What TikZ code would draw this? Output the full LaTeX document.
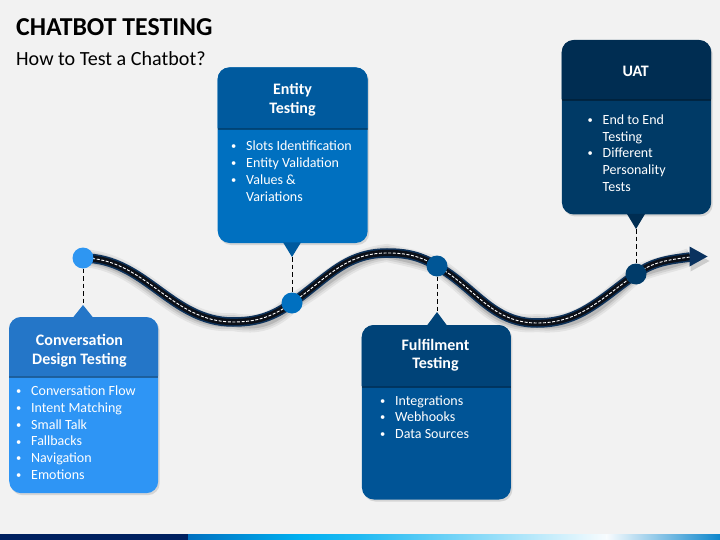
\documentclass[tikz,border=0pt]{standalone}
\usepackage{fontspec}
\setmainfont{Carlito}
\usetikzlibrary{shadows}
\definecolor{bgc}{HTML}{F2F2F2}
\definecolor{barnavy}{HTML}{002060}
\definecolor{hdA}{RGB}{36,118,200}
\definecolor{bdA}{RGB}{46,149,245}
\definecolor{hdB}{RGB}{0,90,158}
\definecolor{bdB}{RGB}{0,112,192}
\definecolor{hdC}{RGB}{0,67,120}
\definecolor{bdC}{RGB}{0,84,150}
\definecolor{hdD}{RGB}{0,45,82}
\definecolor{bdD}{RGB}{0,58,102}
\definecolor{dotA}{RGB}{46,150,242}
\definecolor{dotB}{RGB}{0,112,192}
\definecolor{dotC}{RGB}{0,86,150}
\definecolor{dotD}{RGB}{0,59,105}
\definecolor{roadedge}{RGB}{14,50,90}
\definecolor{roadcore}{RGB}{12,16,24}
\definecolor{arrowc}{RGB}{10,50,95}
\newcommand\bu{\makebox[25pt]{\raisebox{0.9pt}{\fontsize{10.5}{12}\selectfont •}}}
\begin{document}
\begin{tikzpicture}[x=1pt,y=-1pt,
  boxbody/.style={rectangle, rounded corners=12pt, inner sep=0pt, draw=none,
    drop shadow={opacity=0.25, shadow xshift=1.5pt, shadow yshift=-2pt}},
  hdtext/.style={anchor=base, text=white, inner sep=0pt,
    font=\fontsize{16}{18.7}\selectfont\bfseries},
  listtext/.style={anchor=base west, text=white, inner sep=0pt,
    font=\fontsize{14}{16.8}\selectfont},
  dot/.style={circle, minimum size=21pt, inner sep=0pt},
  conn/.style={black, line width=1pt, dash pattern=on 4.5pt off 3pt},
  sep/.style={black, opacity=0.35}
]
\useasboundingbox (0,0) rectangle (720,540);
\fill[bgc] (0,0) rectangle (720,540);

% title
\node[anchor=base west, inner sep=0pt, font=\fontsize{25.8}{30}\selectfont\bfseries] (title) at (16,36) {CHATBOT TESTING};
\node[anchor=base west, inner sep=0pt, font=\fontsize{20.1}{23}\selectfont] (subtitle) at (16,65.5) {How to Test a Chatbot?};

% bottom bar
\fill[barnavy] (0,534) rectangle (188,540);
\shade[left color={rgb,255:red,0;green,112;blue,192}, right color={rgb,255:red,0;green,176;blue,240}] (188,534) rectangle (300,540);
\shade[left color={rgb,255:red,0;green,176;blue,240}, right color={rgb,255:red,32;green,186;blue,242}] (299.5,534) rectangle (360,540);
\shade[left color={rgb,255:red,32;green,186;blue,242}, right color={rgb,255:red,248;green,252;blue,254}] (359.5,534) rectangle (607,540);
\shade[left color={rgb,255:red,248;green,252;blue,254}, right color={rgb,255:red,13;green,134;blue,204}] (606.5,534) rectangle (720,540);

% ---------- boxes ----------
% Box A : Conversation Design Testing
\node[boxbody, fill=bdA, minimum width=149pt, minimum height=176pt, anchor=north west] (boxA) at (9,317) {};
\fill[hdA] (9,376) [rounded corners=12pt] -- (9,317) -- (158,317) [sharp corners] -- (158,376) -- cycle;
\fill[sep] (9,376) rectangle (158,378);
\fill[hdA] (73,317.5) -- (83,305) -- (93,317.5) -- cycle;
\coordinate (tipA) at (83,305);
\node[hdtext] (hA) at (79.5,345.3) {\begin{tabular}[t]{@{}c@{}}Conversation\\Design Testing\end{tabular}};
\node[listtext] (lA) at (6,395.5) {\begin{tabular}[t]{@{}l@{}l@{}}\bu&Conversation Flow\\\bu&Intent Matching\\\bu&Small Talk\\\bu&Fallbacks\\\bu&Navigation\\\bu&Emotions\end{tabular}};

% Box B : Entity Testing
\node[boxbody, fill=bdB, minimum width=150pt, minimum height=175.5pt, anchor=north west] (boxB) at (217.5,67.3) {};
\fill[hdB] (217.5,128.5) [rounded corners=12pt] -- (217.5,67.3) -- (367.5,67.3) [sharp corners] -- (367.5,128.5) -- cycle;
\fill[sep] (217.5,128.5) rectangle (367.5,130.5);
\fill[hdB] (283,242.3) -- (292,257) -- (301,242.3) -- cycle;
\coordinate (tipB) at (292,257);
\node[hdtext] (hB) at (292.5,95) {\begin{tabular}[t]{@{}c@{}}Entity\\Testing\end{tabular}};
\node[listtext] (lB) at (221,150.7) {\begin{tabular}[t]{@{}l@{}l@{}}\bu&Slots Identification\\\bu&Entity Validation\\\bu&Values \&\\&Variations\end{tabular}};

% Box C : Fulfilment Testing
\node[boxbody, fill=bdC, minimum width=149pt, minimum height=174.3pt, anchor=north west] (boxC) at (361.7,325) {};
\fill[hdC] (361.7,386) [rounded corners=12pt] -- (361.7,325) -- (510.7,325) [sharp corners] -- (510.7,386) -- cycle;
\fill[sep] (361.7,386) rectangle (510.7,388);
\fill[hdC] (427,325.5) -- (437,312) -- (447,325.5) -- cycle;
\coordinate (tipC) at (437,312);
\node[hdtext] (hC) at (435.5,350) {\begin{tabular}[t]{@{}c@{}}Fulfilment\\Testing\end{tabular}};
\node[listtext] (lC) at (370,405) {\begin{tabular}[t]{@{}l@{}l@{}}\bu&Integrations\\\bu&Webhooks\\\bu&Data Sources\end{tabular}};

% Box D : UAT
\node[boxbody, fill=bdD, minimum width=149.3pt, minimum height=174.3pt, anchor=north west] (boxD) at (561.7,40) {};
\fill[hdD] (561.7,99.5) [rounded corners=12pt] -- (561.7,40) -- (711,40) [sharp corners] -- (711,99.5) -- cycle;
\fill[sep] (561.7,99.5) rectangle (711,101.5);
\fill[hdD] (627,214) -- (636,229) -- (645,214) -- cycle;
\coordinate (tipD) at (636,229);
\node[hdtext] (hD) at (635.7,76.7) {\begin{tabular}[t]{@{}c@{}}UAT\end{tabular}};
\node[listtext] (lD) at (577.5,124.3) {\begin{tabular}[t]{@{}l@{}l@{}}\bu&End to End\\&Testing\\\bu&Different\\&Personality\\&Tests\end{tabular}};

% ---------- road ----------
\coordinate (pA) at (83,258);
\coordinate (tr1) at (233,322);
\coordinate (pB) at (292,303);
\coordinate (pk) at (387,253);
\coordinate (pC) at (437,266);
\coordinate (tr2) at (537,323);
\coordinate (pD) at (636,274);
\coordinate (rend) at (690,257);
\def\roadpath{(pA) .. controls (145,258) and (171,322) .. (tr1)
  .. controls (257,322) and (272.3,316.8) .. (pB)
  .. controls (326.4,278.9) and (345,253) .. (pk)
  .. controls (407,253) and (419.7,256) .. (pC)
  .. controls (476,288.5) and (492,323) .. (tr2)
  .. controls (580,323) and (600.8,298.7) .. (pD)
  .. controls (654,261.4) and (668,260) .. (rend)}
% shadow
\begin{scope}[shift={(1.5,4.5)}]
  \draw[black, opacity=0.06, line width=18pt] \roadpath;
  \draw[black, opacity=0.08, line width=14pt] \roadpath;
  \draw[black, opacity=0.12, line width=10pt] \roadpath;
  \fill[black, opacity=0.15] (689,246) -- (708,256.5) -- (689,267) -- cycle;
\end{scope}
\draw[roadedge, line width=9.5pt] \roadpath;
\draw[roadcore, line width=6.3pt] \roadpath;
\draw[white, line width=0.9pt, dash pattern=on 3pt off 1.6pt] \roadpath;
\fill[arrowc] (689.5,246.5) -- (707.5,256.5) -- (689.5,266.5) -- cycle;

% ---------- dots ----------
\node[dot, fill=dotA] (dA) at (pA) {};
\node[dot, fill=dotB] (dB) at (pB) {};
\node[dot, fill=dotC] (dC) at (pC) {};
\node[dot, fill=dotD] (dD) at (pD) {};

% ---------- connectors ----------
\draw[conn] (dA) -- (tipA);
\draw[conn] (tipB) -- (dB);
\draw[conn] (dC) -- (tipC);
\draw[conn] (tipD) -- (dD);
\end{tikzpicture}
\end{document}
